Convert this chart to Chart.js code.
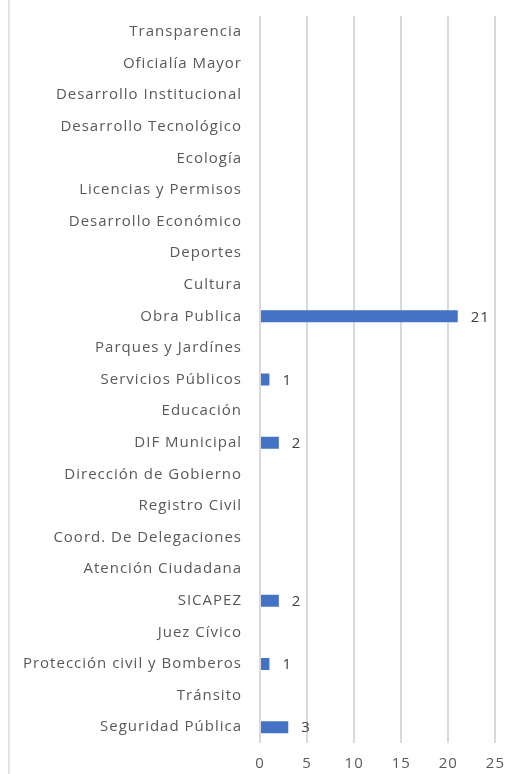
<!DOCTYPE html>
<html>
<head>
<meta charset="utf-8">
<script src="https://cdn.jsdelivr.net/npm/chart.js@4"></script>
<style>
  html, body { margin: 0; padding: 0; background: #fff; }
  #wrap { position: relative; width: 516px; height: 774px; }
  #frame { position: absolute; left: 8px; top: 0; width: 0; height: 774px; border-left: 2px solid #e3e3e3; }
</style>
</head>
<body>
<div id="wrap">
  <div id="frame"></div>
  <canvas id="deptChart" width="516" height="774"></canvas>
</div>
<script>
const departments = [
  'Transparencia', 'Oficialía Mayor', 'Desarrollo Institucional', 'Desarrollo Tecnológico',
  'Ecología', 'Licencias y Permisos', 'Desarrollo Económico', 'Deportes', 'Cultura',
  'Obra Publica', 'Parques y Jardínes', 'Servicios Públicos', 'Educación', 'DIF Municipal',
  'Dirección de Gobierno', 'Registro Civil', 'Coord. De Delegaciones', 'Atención Ciudadana',
  'SICAPEZ', 'Juez Cívico', 'Protección civil y Bomberos', 'Tránsito', 'Seguridad Pública'
];
const counts = [0, 0, 0, 0, 0, 0, 0, 0, 0, 21, 0, 1, 0, 2, 0, 0, 0, 0, 2, 0, 1, 0, 3];
const xTicks = [0, 5, 10, 15, 20, 25];

const labelFont = { family: 'Open Sans', size: 15 };

// labels are set a bit loose; the context is reset on resize so apply it per draw
const looseText = {
  id: 'looseText',
  beforeDraw(chart) { chart.ctx.letterSpacing = '1px'; }
};

// value next to the end of each non-empty bar
const valueLabels = {
  id: 'valueLabels',
  afterDatasetsDraw(chart) {
    const c = chart.ctx;
    const meta = chart.getDatasetMeta(0);
    c.save();
    c.font = '15px "Open Sans"';
    c.fillStyle = '#404040';
    c.textAlign = 'left';
    c.textBaseline = 'middle';
    meta.data.forEach((bar, i) => {
      const v = counts[i];
      if (!v) return;
      c.fillText(String(v), bar.x + 13, bar.y + 1);
    });
    c.restore();
  }
};

new Chart(document.getElementById('deptChart').getContext('2d'), {
  type: 'bar',
  data: {
    labels: departments,
    datasets: [{
      data: counts,
      backgroundColor: '#4472C4',
      borderWidth: 0,
      barPercentage: 0.42,
      categoryPercentage: 0.9
    }]
  },
  options: {
    indexAxis: 'y',
    responsive: false,
    animation: false,
    layout: { padding: { top: 16, right: 19, bottom: -11, left: 0 } },
    plugins: {
      legend: { display: false },
      tooltip: { enabled: false }
    },
    scales: {
      x: {
        min: 0,
        max: 25,
        afterBuildTicks(axis) {
          axis.ticks = xTicks.map(v => ({ value: v }));
        },
        grid: { color: '#d9d9d9', lineWidth: 2, drawTicks: false },
        border: { display: false },
        ticks: {
          padding: 12,
          maxRotation: 0,
          color: '#595959',
          font: labelFont
        }
      },
      y: {
        grid: { display: false, drawTicks: false },
        border: { display: false },
        afterFit(axis) {
          axis.width = 260;
          axis.paddingTop = 0;
          axis.paddingBottom = 0;
        },
        ticks: {
          padding: 18,
          autoSkip: false,
          color: '#595959',
          font: labelFont
        }
      }
    }
  },
  plugins: [looseText, valueLabels]
});
</script>
</body>
</html>
